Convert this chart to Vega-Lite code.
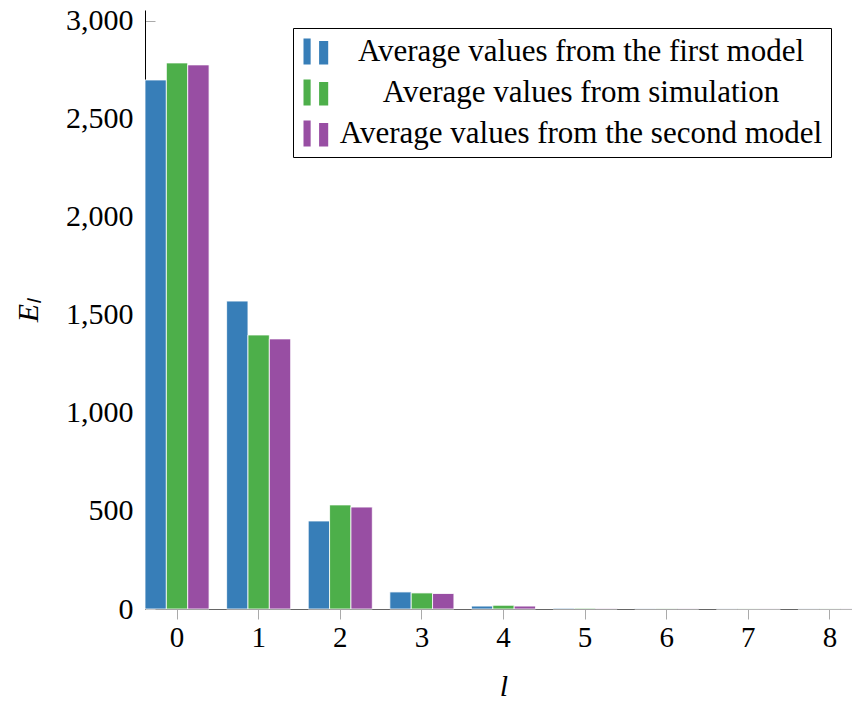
{
  "$schema": "https://vega.github.io/schema/vega-lite/v6.json",
  "autosize": {"type": "none"},
  "padding": {"left": 145, "top": 10, "right": 0, "bottom": 93},
  "width": 717,
  "height": 599,
  "data": {
    "values": [
      {"l": 0, "series": "Average values from the first model", "value": 2699},
      {"l": 0, "series": "Average values from simulation", "value": 2786},
      {"l": 0, "series": "Average values from the second model", "value": 2776},
      {"l": 1, "series": "Average values from the first model", "value": 1571},
      {"l": 1, "series": "Average values from simulation", "value": 1398},
      {"l": 1, "series": "Average values from the second model", "value": 1378},
      {"l": 2, "series": "Average values from the first model", "value": 449},
      {"l": 2, "series": "Average values from simulation", "value": 531},
      {"l": 2, "series": "Average values from the second model", "value": 520},
      {"l": 3, "series": "Average values from the first model", "value": 87},
      {"l": 3, "series": "Average values from simulation", "value": 82},
      {"l": 3, "series": "Average values from the second model", "value": 79},
      {"l": 4, "series": "Average values from the first model", "value": 15},
      {"l": 4, "series": "Average values from simulation", "value": 19},
      {"l": 4, "series": "Average values from the second model", "value": 15},
      {"l": 5, "series": "Average values from the first model", "value": 4},
      {"l": 5, "series": "Average values from simulation", "value": 4},
      {"l": 5, "series": "Average values from the second model", "value": 3},
      {"l": 6, "series": "Average values from the first model", "value": 2},
      {"l": 6, "series": "Average values from simulation", "value": 2},
      {"l": 6, "series": "Average values from the second model", "value": 2},
      {"l": 7, "series": "Average values from the first model", "value": 1},
      {"l": 7, "series": "Average values from simulation", "value": 1},
      {"l": 7, "series": "Average values from the second model", "value": 1},
      {"l": 8, "series": "Average values from the first model", "value": 1},
      {"l": 8, "series": "Average values from simulation", "value": 1},
      {"l": 8, "series": "Average values from the second model", "value": 1}
    ]
  },
  "mark": {"type": "bar", "stroke": "#ffffff", "strokeWidth": 1, "strokeOpacity": 0.8},
  "encoding": {
    "x": {
      "field": "l",
      "type": "ordinal",
      "scale": {"paddingInner": 0.215, "paddingOuter": 0},
      "axis": {
        "labelAngle": 0,
        "labelFontSize": 29,
        "labelColor": "#000",
        "labelPadding": 4,
        "tickSize": 10,
        "tickColor": "#aaaaaa",
        "domainColor": "#666666",
        "title": "l",
        "titleFontSize": 30,
        "titleFontStyle": "italic",
        "titleFontWeight": "normal",
        "titleColor": "#000",
        "titleBaseline": "alphabetic",
        "titleY": 86
      }
    },
    "xOffset": {
      "field": "series",
      "type": "nominal",
      "sort": ["Average values from the first model", "Average values from simulation", "Average values from the second model"],
      "scale": {"paddingInner": 0, "paddingOuter": 0}
    },
    "y": {
      "field": "value",
      "type": "quantitative",
      "scale": {"domain": [0, 3056], "nice": false},
      "axis": {
        "values": [0, 500, 1000, 1500, 2000, 2500, 3000],
        "format": ",.0f",
        "grid": false,
        "labelFontSize": 30,
        "labelColor": "#000",
        "labelPadding": 22,
        "tickSize": -10,
        "tickColor": "#aaaaaa",
        "domainColor": "#000000",
        "title": "Eₗ",
        "titleFontSize": 30,
        "titleFontStyle": "italic",
        "titleFontWeight": "normal",
        "titleColor": "#000",
        "titleX": -117,
        "titleY": 300,
        "titleAngle": -90,
        "titleBaseline": "middle"
      }
    },
    "color": {
      "field": "series",
      "type": "nominal",
      "sort": ["Average values from the first model", "Average values from simulation", "Average values from the second model"],
      "scale": {
        "domain": ["Average values from the first model", "Average values from simulation", "Average values from the second model"],
        "range": ["#377eb8", "#4daf4a", "#984ea3"]
      },
      "legend": {
        "orient": "none",
        "legendX": 148,
        "legendY": 18,
        "title": null,
        "strokeColor": "#000000",
        "padding": 8,
        "symbolType": "M -1 -1 H -0.45 V 1 H -1 Z M 0.2 -0.8 H 0.9 V 1 H 0.2 Z",
        "symbolSize": 676,
        "symbolStrokeWidth": 0,
        "symbolOpacity": 1,
        "labelFontSize": 31,
        "labelColor": "#000",
        "labelAlign": "center",
        "labelOffset": 249,
        "labelLimit": 700,
        "rowPadding": 9
      }
    }
  },
  "config": {
    "view": {"stroke": null},
    "font": "Liberation Serif"
  }
}
